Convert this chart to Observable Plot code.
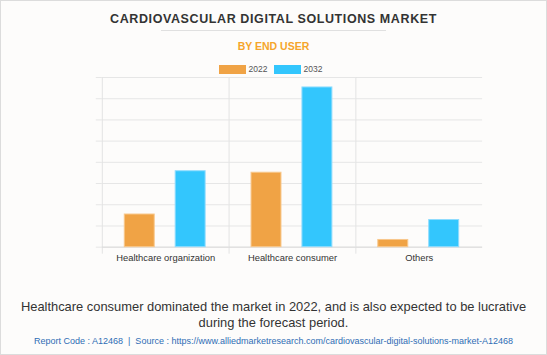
<!DOCTYPE html>
<html>
<head>
<meta charset="utf-8">
<script src="https://cdn.jsdelivr.net/npm/d3@7"></script>
<script src="https://cdn.jsdelivr.net/npm/@observablehq/plot@0.6"></script>
<style>
  html, body { margin: 0; padding: 0; background: #fff; }
  #wrap { position: relative; width: 545px; height: 353px; border: 1px solid #dcdcdc; background: #fdfcfb; overflow: hidden; font-family: "Liberation Sans", Arial, sans-serif; }
  .abs { position: absolute; left: 0; width: 545px; text-align: center; }
  #title { top: 10px; font-size: 12.5px; font-weight: bold; color: #333; letter-spacing: 0.6px; line-height: 16px; }
  #rule { position: absolute; top: 29px; left: 160px; width: 225px; height: 1px; background: #e0e0e0; }
  #sub { top: 39px; font-size: 10.5px; font-weight: bold; color: #f5a52a; line-height: 13px; }
  #legend { top: 63px; left: -3px; font-size: 8.5px; color: #555; line-height: 11px; display: flex; justify-content: center; }
  .item { display: flex; align-items: center; margin: 0 3px; }
  .sw { display: inline-block; width: 27px; height: 9px; margin-right: 3px; }
  #chart { position: absolute; top: 70px; left: -1px; }
  #caption { top: 298px; font-size: 12.9px; color: #333; line-height: 16px; }
  #foot { top: 335px; font-size: 9px; color: #2f6db5; line-height: 11px; }
</style>
</head>
<body>
<div id="wrap">
  <div id="title" class="abs">CARDIOVASCULAR DIGITAL SOLUTIONS MARKET</div>
  <div id="rule"></div>
  <div id="sub" class="abs">BY END USER</div>
  <div id="legend" class="abs"></div>
  <div id="chart"></div>
  <div id="caption" class="abs">Healthcare consumer dominated the market in 2022, and is also expected to be lucrative<br>during the forecast period.</div>
  <div id="foot" class="abs">Report Code : A12468 &nbsp;|&nbsp; Source : https://www.alliedmarketresearch.com/cardiovascular-digital-solutions-market-A12468</div>
</div>
<script>
const categories = ["Healthcare organization", "Healthcare consumer", "Others"];
const years = ["2022", "2032"];
const values2022 = [154, 351, 34];
const values2032 = [358, 753, 128];
const yTicks = [0, 100, 200, 300, 400, 500, 600, 700, 800];
const colors = ["#f0a345", "#33c6fd"];
const strokes = ["#f8c88c", "#8fdcfe"];

const data = [];
categories.forEach((c, i) => {
  data.push({category: c, year: years[0], value: values2022[i]});
  data.push({category: c, year: years[1], value: values2032[i]});
});

const legend = document.getElementById("legend");
years.forEach((y, i) => {
  const it = document.createElement("span");
  it.className = "item";
  it.innerHTML = `<span class="sw" style="background:${colors[i]}"></span>${y}`;
  legend.appendChild(it);
});

const plot = Plot.plot({
  width: 547,
  height: 195,
  marginTop: 6,
  marginBottom: 19,
  marginLeft: 101.5,
  marginRight: 64.3,
  style: {background: "transparent", fontFamily: "Liberation Sans, Arial, sans-serif"},
  fx: {domain: categories, padding: 0, label: null},
  x: {domain: years, paddingInner: 0.41, paddingOuter: 0.44, axis: null},
  y: {domain: [0, 800], axis: null, label: null},
  color: {domain: years, range: colors},
  marks: [
    Plot.gridY(yTicks, {stroke: "#e6e6e6", strokeOpacity: 1}),
    Plot.axisY(yTicks, {tickSize: 6, tickFormat: () => "", label: null, stroke: "#e6e6e6", strokeOpacity: 1}),
    Plot.frame({anchor: "left", stroke: "#e3e3e3", insetBottom: -6}),
    Plot.ruleY([0], {stroke: "#dcdcdc"}),
    Plot.barY(data, {fx: "category", x: "year", y: "value", fill: "year",
      stroke: d => strokes[years.indexOf(d.year)], strokeWidth: 1}),
    Plot.axisFx({anchor: "bottom", tickSize: 0, tickPadding: 7, fontSize: 9.4, fill: "#333", label: null})
  ]
});
document.getElementById("chart").appendChild(plot);
</script>
</body>
</html>
